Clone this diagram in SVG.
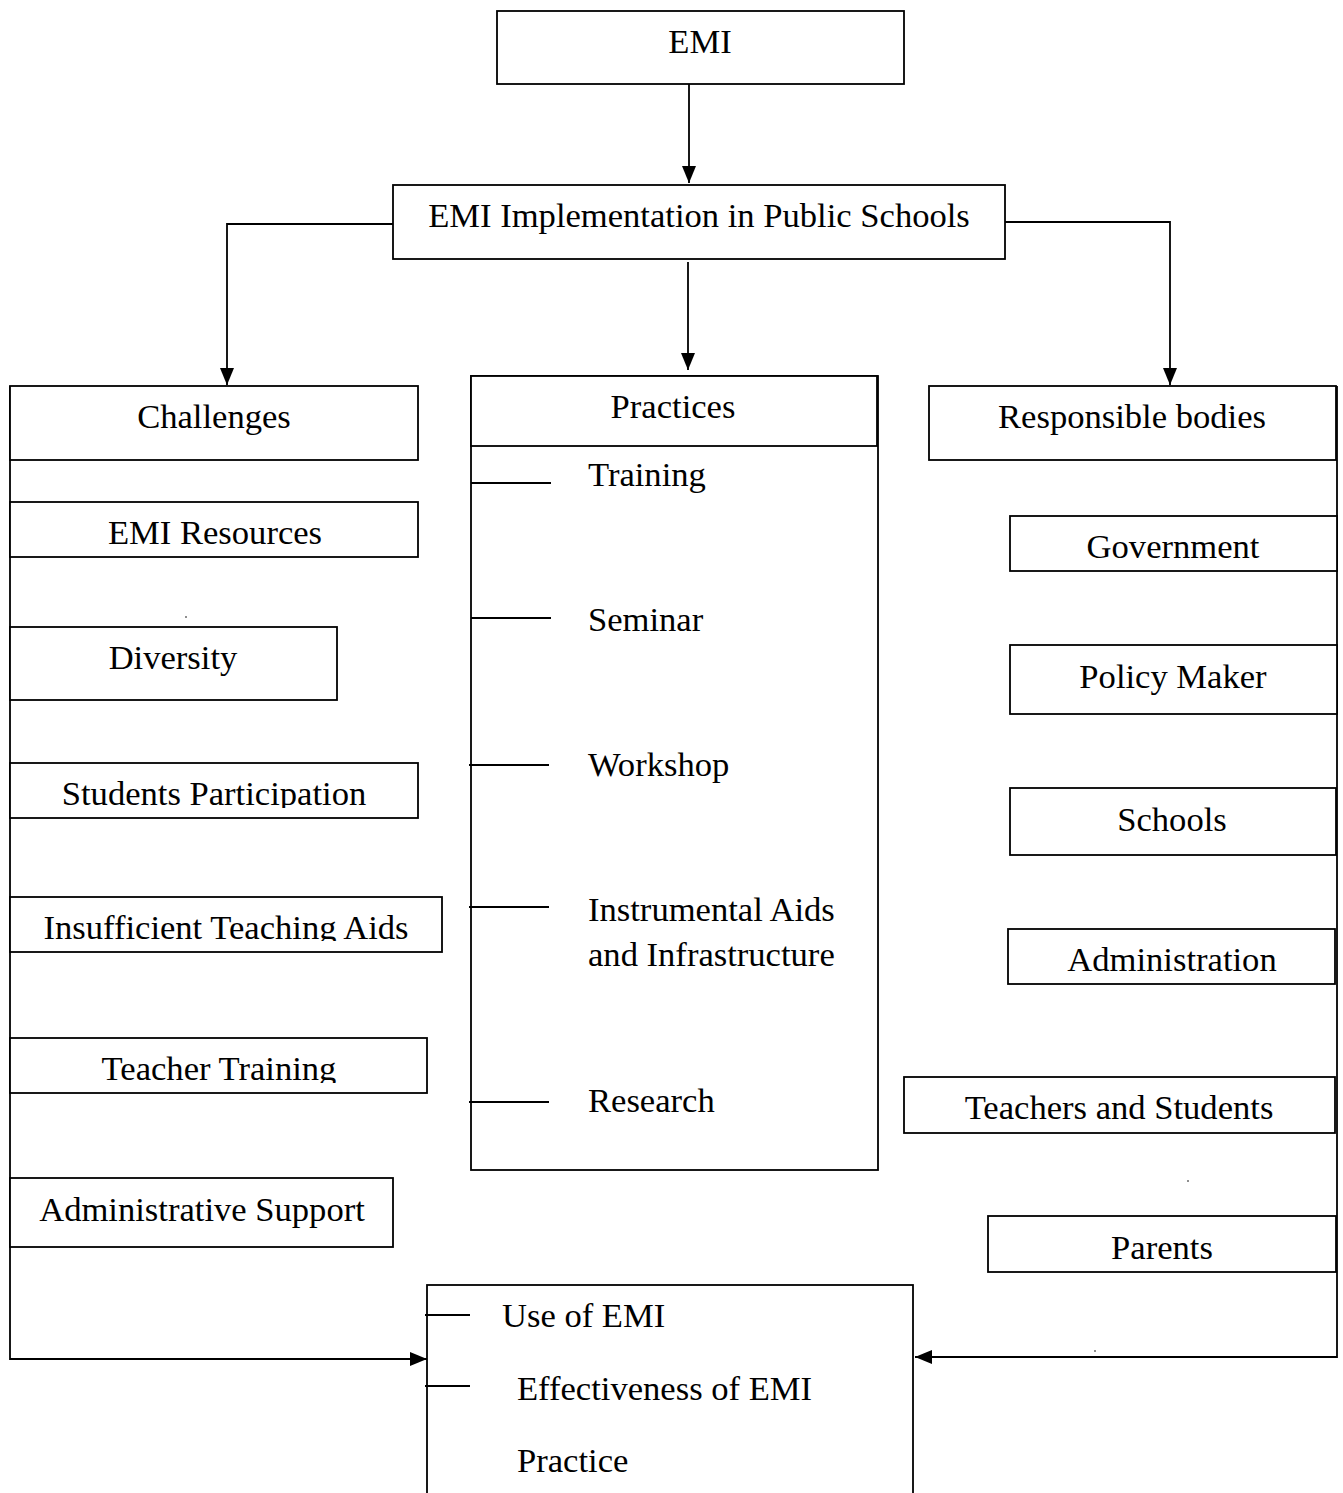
<svg xmlns="http://www.w3.org/2000/svg" width="1343" height="1493" viewBox="0 0 1343 1493">
<style>
.box{fill:#fff;stroke:#000;stroke-width:1.8}
.ln{fill:none;stroke:#000;stroke-width:1.8}
.t{font-family:"Liberation Serif","Times New Roman",serif;font-size:34.6px;fill:#000}
.c{text-anchor:middle}
.dot{fill:#000}
</style>
<defs>
<marker id="ah" markerUnits="userSpaceOnUse" markerWidth="17" markerHeight="14" refX="17" refY="7" orient="auto">
<path d="M0,0 L17,7 L0,14 z" fill="#000"/>
</marker>
<clipPath id="cSP"><rect x="10" y="763" width="408" height="45"/></clipPath>
<clipPath id="cITA"><rect x="10" y="897" width="432" height="44"/></clipPath>
<clipPath id="cTT"><rect x="10" y="1038" width="417" height="45"/></clipPath>
</defs>
<rect width="1343" height="1493" fill="#fff"/>

<g id="connectors">
<path class="ln" d="M689,84 V183" marker-end="url(#ah)"/>
<path class="ln" d="M393,224 H227 V385" marker-end="url(#ah)"/>
<path class="ln" d="M1005,222 H1170 V385" marker-end="url(#ah)"/>
<path class="ln" d="M688,262 V370" marker-end="url(#ah)"/>
<path class="ln" d="M10,386 V1359 H427" marker-end="url(#ah)"/>
<path class="ln" d="M1337,386 V1357 H915" marker-end="url(#ah)"/>
</g>

<g id="emi"><rect class="box" x="497" y="11" width="407" height="73"/><text class="t c" x="700" y="53">EMI</text></g>
<g id="impl"><rect class="box" x="393" y="185" width="612" height="74"/><text class="t c" x="699" y="227">EMI Implementation in Public Schools</text></g>

<g id="challenges"><rect class="box" x="10" y="386" width="408" height="74"/><text class="t c" x="214" y="428">Challenges</text></g>
<g id="emi-resources"><rect class="box" x="10" y="502" width="408" height="55"/><text class="t c" x="215" y="544">EMI Resources</text></g>
<circle class="dot" cx="186" cy="617" r="0.8"/>
<g id="diversity"><rect class="box" x="10" y="627" width="327" height="73"/><text class="t c" x="173" y="669">Diversity</text></g>
<g id="students-participation"><rect class="box" x="10" y="763" width="408" height="55"/><text class="t c" x="214" y="805" clip-path="url(#cSP)">Students Participation</text></g>
<g id="insufficient-aids"><rect class="box" x="10" y="897" width="432" height="55"/><text class="t c" x="226" y="939" clip-path="url(#cITA)">Insufficient Teaching Aids</text></g>
<g id="teacher-training"><rect class="box" x="10" y="1038" width="417" height="55"/><text class="t c" x="219" y="1080" clip-path="url(#cTT)">Teacher Training</text></g>
<g id="admin-support"><rect class="box" x="10" y="1178" width="383" height="69"/><text class="t c" x="202" y="1221">Administrative Support</text></g>

<g id="practices">
<rect class="box" x="471" y="376" width="407" height="794"/>
<rect class="box" x="471" y="376" width="406" height="70"/>
<text class="t c" x="673" y="418">Practices</text>
<path class="ln" d="M471,483 H551 M471,618 H551 M469,765 H549 M469,907 H549 M469,1102 H549"/>
<text class="t" x="588" y="486">Training</text>
<text class="t" x="588" y="631">Seminar</text>
<text class="t" x="588" y="776">Workshop</text>
<text class="t" x="588" y="921">Instrumental Aids</text>
<text class="t" x="588" y="966">and Infrastructure</text>
<text class="t" x="588" y="1112">Research</text>
</g>

<g id="responsible"><rect class="box" x="929" y="386" width="407" height="74"/><text class="t c" x="1132" y="428">Responsible bodies</text></g>
<g id="government"><rect class="box" x="1010" y="516" width="327" height="55"/><text class="t c" x="1173" y="558">Government</text></g>
<g id="policy-maker"><rect class="box" x="1010" y="645" width="327" height="69"/><text class="t c" x="1173" y="688">Policy Maker</text></g>
<g id="schools"><rect class="box" x="1010" y="788" width="326" height="67"/><text class="t c" x="1172" y="831">Schools</text></g>
<g id="administration"><rect class="box" x="1008" y="929" width="327" height="55"/><text class="t c" x="1172" y="971">Administration</text></g>
<g id="teachers-students"><rect class="box" x="904" y="1077" width="431" height="56"/><text class="t c" x="1119" y="1119">Teachers and Students</text></g>
<circle class="dot" cx="1188" cy="1181" r="0.8"/>
<g id="parents"><rect class="box" x="988" y="1216" width="348" height="56"/><text class="t c" x="1162" y="1259">Parents</text></g>
<circle class="dot" cx="1095" cy="1351" r="0.8"/>

<g id="outcome">
<rect class="box" x="427" y="1285" width="486" height="220"/>
<path class="ln" d="M425,1315 H470 M425,1386 H470"/>
<text class="t" x="502" y="1327">Use of EMI</text>
<text class="t" x="517" y="1400">Effectiveness of EMI</text>
<text class="t" x="517" y="1472">Practice</text>
</g>
</svg>
